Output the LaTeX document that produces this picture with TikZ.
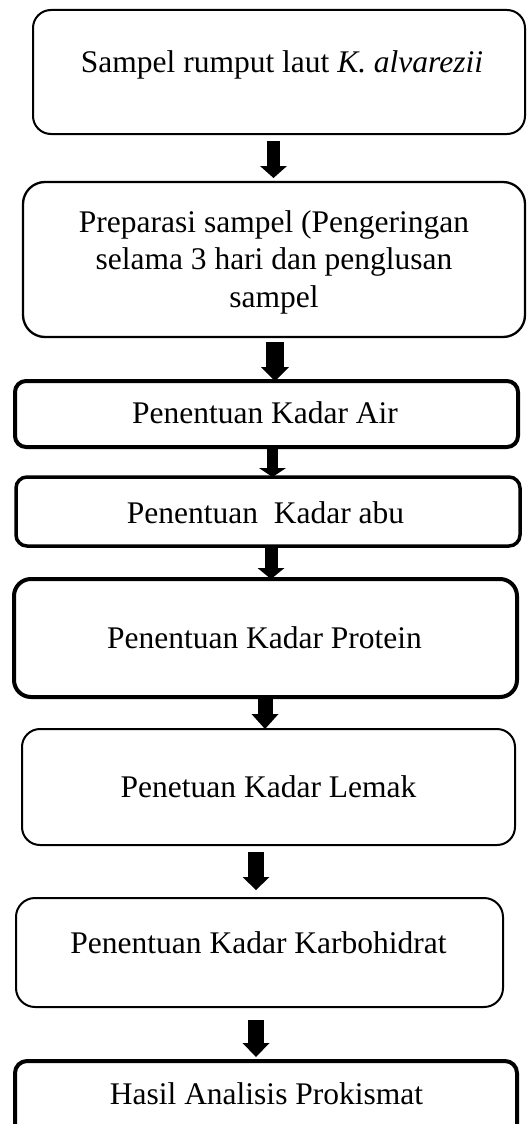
\documentclass[tikz,border=0pt]{standalone}
\usepackage{fontspec}
\setmainfont{Liberation Serif}
\usetikzlibrary{arrows.meta}
\tikzset{
  box/.style n args={4}{draw, rounded corners=#4, line width=#3, outer sep=0pt, inner sep=0pt,
    minimum width=#1, minimum height=#2, anchor=center},
  txt/.style={anchor=base, inner sep=0pt, font=\fontsize{31.5}{37.5}\selectfont},
  blk/.style n args={3}{draw, line width=#1, -{Triangle[width=#2,length=#3,line width=0pt]}},
}
\begin{document}
\begin{tikzpicture}[x=1pt, y=-1pt]
\path[use as bounding box, clip] (0,0) rectangle (529,1124);
% boxes
\node[box={492pt}{124pt}{2pt}{18pt}] (b1) at (279,72) {};
\node[box={502pt}{155pt}{2.3pt}{22pt}] (b2) at (274,259.5) {};
\node[box={503pt}{66pt}{4pt}{11pt}] (b3) at (266.5,414) {};
\node[box={504pt}{69pt}{3.5pt}{11pt}] (b4) at (268,511.5) {};
\node[box={503pt}{118pt}{4pt}{17pt}] (b5) at (265.5,638) {};
\node[box={493pt}{116pt}{2pt}{18pt}] (b6) at (268.5,787) {};
\node[box={487pt}{109pt}{2pt}{19pt}] (b7) at (259.5,952.5) {};
\node[box={502pt}{79pt}{4pt}{12pt}] (b8) at (266,1100.5) {};
% texts
\node[txt] (t1) at (282,72) {Sampel rumput laut \textit{K. alvarezii}};
\node[txt] (t2) at (274,232) {\begin{tabular}[t]{@{}c@{}}Preparasi sampel (Pengeringan\\selama 3 hari dan penglusan\\sampel\end{tabular}};
\node[txt] (t3) at (265,423) {Penentuan Kadar Air};
\node[txt] (t4) at (265.5,523) {Penentuan\ \ Kadar abu};
\node[txt] (t5) at (264.5,648) {Penentuan Kadar Protein};
\node[txt] (t6) at (268.5,797) {Penetuan Kadar Lemak};
\node[txt] (t7) at (258.5,953) {Penentuan Kadar Karbohidrat};
\node[txt] (t8) at (266.5,1104) {Hasil Analisis Prokismat};
% arrows
\draw[blk={13pt}{27pt}{12pt}, shorten <=7pt, shorten >=4pt] (b1.south -| 273.5,0) -- (b2.north -| 273.5,0);
\draw[blk={18pt}{28pt}{14pt}, shorten <=5pt] (b2.south -| 275,0) -- (b3.north -| 275,0);
\draw[blk={11pt}{27pt}{9pt}] (b3.south -| 272.5,0) -- (b4.north -| 272.5,0);
\draw[blk={13pt}{27pt}{11pt}] (b4.south -| 271,0) -- (b5.north -| 271,0);
\draw[blk={15pt}{27pt}{15pt}] (b5.south -| 265,0) -- (b6.north -| 265,0);
\draw[blk={16pt}{27pt}{13pt}, shorten <=7pt, shorten >=8pt] (b6.south -| 256,0) -- (b7.north -| 256,0);
\draw[blk={16pt}{27pt}{14pt}, shorten <=13pt, shorten >=4pt] (b7.south -| 256,0) -- (b8.north -| 256,0);
\end{tikzpicture}
\end{document}
